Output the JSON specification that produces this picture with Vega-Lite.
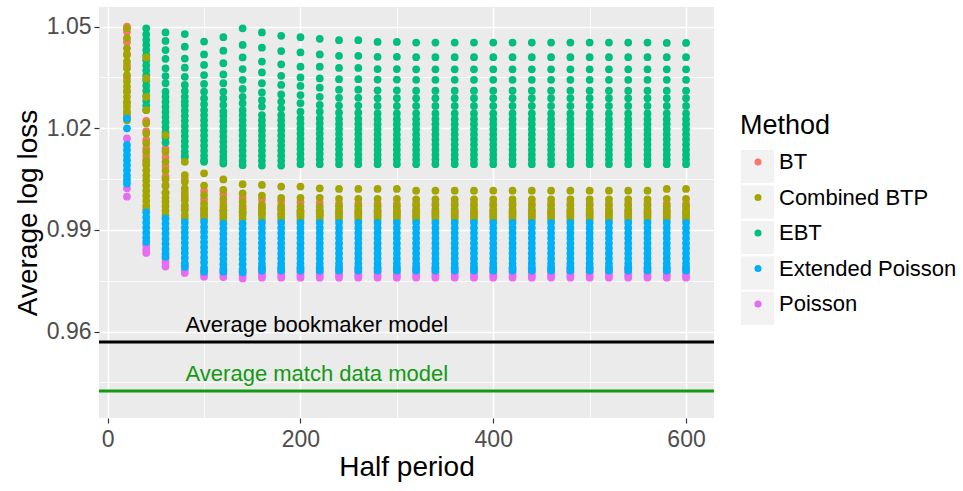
{
  "$schema": "https://vega.github.io/schema/vega-lite/v6.json",
  "width": 615,
  "height": 411,
  "autosize": "none",
  "padding": {"left": 99, "top": 7, "right": 249, "bottom": 73},
  "config": {
    "view": {"fill": "#EBEBEB", "stroke": null},
    "font": "Liberation Sans"
  },
  "encoding": {
    "y": {
      "field": "v", "type": "quantitative",
      "scale": {"domain": [0.9345, 1.0558], "nice": false, "zero": false},
      "title": "Average log loss",
      "axis": {
        "values": [0.945, 0.96, 0.975, 0.99, 1.005, 1.02, 1.035, 1.05],
        "format": ".2f",
        "labelExpr": "(datum.value==0.96||datum.value==0.99||datum.value==1.02||datum.value==1.05)?datum.label:''",
        "domain": false,
        "grid": true,
        "gridColor": "#FFFFFF",
        "gridWidth": {"condition": {"test": "datum.value==0.96||datum.value==0.99||datum.value==1.02||datum.value==1.05", "value": 1.6}, "value": 0.8},
        "tickOpacity": {"condition": {"test": "datum.value==0.96||datum.value==0.99||datum.value==1.02||datum.value==1.05", "value": 1}, "value": 0},
        "tickColor": "#333333",
        "tickSize": 5,
        "tickWidth": 1.2,
        "labelFontSize": 23,
        "labelColor": "#4D4D4D",
        "labelPadding": 3,
        "titleFontSize": 28,
        "titleFontWeight": "normal",
        "titleColor": "#000000",
        "titlePadding": 4
      }
    }
  },
  "layer": [
    {
      "data": {"values": [{"key": "k1"}, {"key": "k2"}, {"key": "k3"}, {"key": "k4"}, {"key": "k5"}]},
      "mark": {"type": "point", "filled": true, "color": "#F2F2F2", "opacity": 1},
      "encoding": {
        "shape": {
          "field": "key", "type": "nominal",
          "scale": {
            "domain": ["k1", "k2", "k3", "k4", "k5"],
            "range": ["square", "square", "square", "square", "square"]
          },
          "legend": {
            "orient": "none",
            "legendX": 642,
            "legendY": 143,
            "title": null,
            "labelExpr": "''",
            "labelFontSize": 1,
            "labelOffset": 0,
            "symbolSize": 1089,
            "symbolFillColor": "#F2F2F2",
            "symbolOpacity": 1,
            "symbolStrokeWidth": 0,
            "symbolOffset": 0,
            "rowPadding": 2.5
          }
        }
      }
    },
    {
      "data": {"values": [
        {"m": "BT", "h": 20, "v": [1.0500,1.0485,1.0455,1.0420,1.0385,1.0350,1.0310,1.0275,1.0245]},
        {"m": "BT", "h": 40, "v": [1.0222,1.0192,1.0166,1.0141,1.0118,1.0098]},
        {"m": "BT", "h": 60, "v": [1.0140,1.0115,1.0088,1.0058,1.0033,1.0010]},
        {"m": "BT", "h": 80, "v": [1.0050,1.0012,0.9995,0.9965]},
        {"m": "BT", "h": 100, "v": [1.0015,0.9990,0.9960,0.9945]},
        {"m": "BT", "h": 120, "v": [1.0005,0.9980,0.9958]},
        {"m": "BT", "h": 140, "v": [0.9995,0.9972,0.9952]},
        {"m": "BT", "h": 160, "v": [0.9990,0.9968,0.9950]},
        {"m": "BT", "h": 180, "v": [0.9985,0.9962,0.9946]},
        {"m": "BT", "h": 200, "v": [0.9982,0.9955,0.9944]},
        {"m": "BT", "h": 220, "v": [0.9980,0.9955,0.9944]},
        {"m": "BT", "h": 240, "v": [0.9978,0.9955,0.9943]},
        {"m": "BT", "h": 260, "v": [0.9978,0.9955,0.9943]},
        {"m": "BT", "h": 280, "v": [0.9978,0.9955,0.9943]},
        {"m": "BT", "h": 300, "v": [0.9978,0.9955,0.9943]},
        {"m": "BT", "h": 320, "v": [0.9978,0.9955,0.9943]},
        {"m": "BT", "h": 340, "v": [0.9978,0.9955,0.9943]},
        {"m": "BT", "h": 360, "v": [0.9978,0.9955,0.9943]},
        {"m": "BT", "h": 380, "v": [0.9978,0.9955,0.9943]},
        {"m": "BT", "h": 400, "v": [0.9978,0.9955,0.9943]},
        {"m": "BT", "h": 420, "v": [0.9978,0.9955,0.9943]},
        {"m": "BT", "h": 440, "v": [0.9978,0.9955,0.9943]},
        {"m": "BT", "h": 460, "v": [0.9978,0.9955,0.9943]},
        {"m": "BT", "h": 480, "v": [0.9978,0.9955,0.9943]},
        {"m": "BT", "h": 500, "v": [0.9978,0.9955,0.9943]},
        {"m": "BT", "h": 520, "v": [0.9978,0.9955,0.9943]},
        {"m": "BT", "h": 540, "v": [0.9978,0.9955,0.9943]},
        {"m": "BT", "h": 560, "v": [0.9978,0.9955,0.9943]},
        {"m": "BT", "h": 580, "v": [0.9978,0.9955,0.9943]},
        {"m": "BT", "h": 600, "v": [0.9978,0.9955,0.9943]},

        {"m": "Poisson", "h": 20, "v": [1.0170,1.0023,0.9998]},
        {"m": "Poisson", "h": 40, "v": [0.9855,0.9842,0.9832]},
        {"m": "Poisson", "h": 60, "v": [0.9815,0.9804,0.9792]},
        {"m": "Poisson", "h": 80, "v": [0.9795,0.9782,0.9773]},
        {"m": "Poisson", "h": 100, "v": [0.9780,0.9770,0.9762]},
        {"m": "Poisson", "h": 120, "v": [0.9780,0.9770,0.9761]},
        {"m": "Poisson", "h": 140, "v": [0.9776,0.9766,0.9757]},
        {"m": "Poisson", "h": 160, "v": [0.9790,0.9775,0.9766,0.9759]},
        {"m": "Poisson", "h": 180, "v": [0.9790,0.9775,0.9766,0.9759]},
        {"m": "Poisson", "h": 200, "v": [0.9790,0.9775,0.9766,0.9759]},
        {"m": "Poisson", "h": 220, "v": [0.9790,0.9775,0.9766,0.9759]},
        {"m": "Poisson", "h": 240, "v": [0.9790,0.9775,0.9766,0.9759]},
        {"m": "Poisson", "h": 260, "v": [0.9790,0.9775,0.9766,0.9759]},
        {"m": "Poisson", "h": 280, "v": [0.9790,0.9775,0.9766,0.9759]},
        {"m": "Poisson", "h": 300, "v": [0.9790,0.9775,0.9766,0.9759]},
        {"m": "Poisson", "h": 320, "v": [0.9790,0.9775,0.9766,0.9759]},
        {"m": "Poisson", "h": 340, "v": [0.9790,0.9775,0.9766,0.9759]},
        {"m": "Poisson", "h": 360, "v": [0.9790,0.9775,0.9766,0.9759]},
        {"m": "Poisson", "h": 380, "v": [0.9790,0.9775,0.9766,0.9759]},
        {"m": "Poisson", "h": 400, "v": [0.9790,0.9775,0.9766,0.9759]},
        {"m": "Poisson", "h": 420, "v": [0.9790,0.9775,0.9766,0.9759]},
        {"m": "Poisson", "h": 440, "v": [0.9790,0.9775,0.9766,0.9759]},
        {"m": "Poisson", "h": 460, "v": [0.9790,0.9775,0.9766,0.9759]},
        {"m": "Poisson", "h": 480, "v": [0.9790,0.9775,0.9766,0.9759]},
        {"m": "Poisson", "h": 500, "v": [0.9790,0.9775,0.9766,0.9759]},
        {"m": "Poisson", "h": 520, "v": [0.9790,0.9775,0.9766,0.9759]},
        {"m": "Poisson", "h": 540, "v": [0.9790,0.9775,0.9766,0.9759]},
        {"m": "Poisson", "h": 560, "v": [0.9790,0.9775,0.9766,0.9759]},
        {"m": "Poisson", "h": 580, "v": [0.9790,0.9775,0.9766,0.9759]},
        {"m": "Poisson", "h": 600, "v": [0.9790,0.9775,0.9766,0.9759]},

        {"m": "EBT", "h": 40, "v": [1.0495,1.0477,1.0461,1.0446,1.0431,1.0416,1.0401,1.0386,1.0371,1.0356,1.0341,1.0326,1.0311,1.0296,1.0281,1.0267,1.0254]},
        {"m": "EBT", "h": 60, "v": [1.0483,1.0458,1.0431,1.0405,1.0377,1.0354,1.0333,1.0308,1.0293,1.0278,1.0263,1.0248,1.0233,1.0218,1.0203,1.0188,1.0173,1.0158]},
        {"m": "EBT", "h": 80, "v": [1.0478,1.0441,1.0406,1.0379,1.0352,1.0328,1.0310,1.0293,1.0279,1.0267,1.0252,1.0237,1.0222,1.0207,1.0192,1.0177,1.0162,1.0147,1.0132,1.0120,1.0114]},
        {"m": "EBT", "h": 100, "v": [1.0456,1.0418,1.0387,1.0357,1.0331,1.0308,1.0288,1.0271,1.0254,1.0239,1.0224,1.0209,1.0194,1.0179,1.0164,1.0149,1.0134,1.0119,1.0106,1.0101]},
        {"m": "EBT", "h": 120, "v": [1.0469,1.0429,1.0392,1.0359,1.0333,1.0308,1.0288,1.0269,1.0249,1.0236,1.0221,1.0206,1.0191,1.0176,1.0161,1.0146,1.0131,1.0117,1.0105,1.0096]},
        {"m": "EBT", "h": 140, "v": [1.0495,1.0446,1.0409,1.0375,1.0343,1.0316,1.0293,1.0274,1.0254,1.0239,1.0224,1.0209,1.0194,1.0179,1.0164,1.0149,1.0134,1.0119,1.0104,1.0091]},
        {"m": "EBT", "h": 160, "v": [1.0483,1.0438,1.0397,1.0365,1.0333,1.0306,1.0283,1.0264,1.0239,1.0224,1.0209,1.0194,1.0179,1.0164,1.0149,1.0134,1.0119,1.0104,1.0090]},
        {"m": "EBT", "h": 180, "v": [1.0473,1.0428,1.0389,1.0355,1.0328,1.0300,1.0279,1.0259,1.0239,1.0224,1.0209,1.0194,1.0179,1.0164,1.0149,1.0134,1.0119,1.0104,1.0090]},
        {"m": "EBT", "h": 200, "v": [1.0469,1.0424,1.0382,1.0350,1.0325,1.0298,1.0274,1.0249,1.0229,1.0214,1.0199,1.0184,1.0169,1.0154,1.0139,1.0124,1.0109,1.0094]},
        {"m": "EBT", "h": 220, "v": [1.0464,1.0418,1.0382,1.0347,1.0320,1.0293,1.0269,1.0249,1.0229,1.0214,1.0199,1.0184,1.0169,1.0154,1.0139,1.0124,1.0109,1.0094]},
        {"m": "EBT", "h": 240, "v": [1.0460,1.0414,1.0378,1.0345,1.0314,1.0290,1.0267,1.0246,1.0228,1.0213,1.0198,1.0183,1.0168,1.0153,1.0138,1.0123,1.0108,1.0094]},
        {"m": "EBT", "h": 260, "v": [1.0460,1.0414,1.0378,1.0345,1.0314,1.0290,1.0267,1.0246,1.0228,1.0213,1.0198,1.0183,1.0168,1.0153,1.0138,1.0123,1.0108,1.0094]},
        {"m": "EBT", "h": 280, "v": [1.0455,1.0411,1.0375,1.0344,1.0312,1.0289,1.0266,1.0244,1.0227,1.0212,1.0197,1.0182,1.0167,1.0152,1.0137,1.0122,1.0108,1.0094]},
        {"m": "EBT", "h": 300, "v": [1.0455,1.0411,1.0375,1.0344,1.0312,1.0289,1.0266,1.0244,1.0227,1.0212,1.0197,1.0182,1.0167,1.0152,1.0137,1.0122,1.0108,1.0094]},
        {"m": "EBT", "h": 320, "v": [1.0453,1.0410,1.0374,1.0343,1.0311,1.0289,1.0266,1.0244,1.0227,1.0212,1.0197,1.0182,1.0167,1.0152,1.0137,1.0122,1.0108,1.0094]},
        {"m": "EBT", "h": 340, "v": [1.0453,1.0410,1.0374,1.0343,1.0311,1.0289,1.0266,1.0244,1.0227,1.0212,1.0197,1.0182,1.0167,1.0152,1.0137,1.0122,1.0108,1.0094]},
        {"m": "EBT", "h": 360, "v": [1.0453,1.0410,1.0374,1.0343,1.0311,1.0289,1.0266,1.0244,1.0227,1.0212,1.0197,1.0182,1.0167,1.0152,1.0137,1.0122,1.0108,1.0094]},
        {"m": "EBT", "h": 380, "v": [1.0453,1.0410,1.0374,1.0343,1.0311,1.0289,1.0266,1.0244,1.0227,1.0212,1.0197,1.0182,1.0167,1.0152,1.0137,1.0122,1.0108,1.0094]},
        {"m": "EBT", "h": 400, "v": [1.0453,1.0410,1.0374,1.0343,1.0311,1.0289,1.0266,1.0244,1.0227,1.0212,1.0197,1.0182,1.0167,1.0152,1.0137,1.0122,1.0108,1.0094]},
        {"m": "EBT", "h": 420, "v": [1.0453,1.0410,1.0374,1.0343,1.0311,1.0289,1.0266,1.0244,1.0227,1.0212,1.0197,1.0182,1.0167,1.0152,1.0137,1.0122,1.0108,1.0094]},
        {"m": "EBT", "h": 440, "v": [1.0453,1.0410,1.0374,1.0343,1.0311,1.0289,1.0266,1.0244,1.0227,1.0212,1.0197,1.0182,1.0167,1.0152,1.0137,1.0122,1.0108,1.0094]},
        {"m": "EBT", "h": 460, "v": [1.0453,1.0410,1.0374,1.0343,1.0311,1.0289,1.0266,1.0244,1.0227,1.0212,1.0197,1.0182,1.0167,1.0152,1.0137,1.0122,1.0108,1.0094]},
        {"m": "EBT", "h": 480, "v": [1.0453,1.0410,1.0374,1.0343,1.0311,1.0289,1.0266,1.0244,1.0227,1.0212,1.0197,1.0182,1.0167,1.0152,1.0137,1.0122,1.0108,1.0094]},
        {"m": "EBT", "h": 500, "v": [1.0453,1.0410,1.0374,1.0343,1.0311,1.0289,1.0266,1.0244,1.0227,1.0212,1.0197,1.0182,1.0167,1.0152,1.0137,1.0122,1.0108,1.0094]},
        {"m": "EBT", "h": 520, "v": [1.0453,1.0410,1.0374,1.0343,1.0311,1.0289,1.0266,1.0244,1.0227,1.0212,1.0197,1.0182,1.0167,1.0152,1.0137,1.0122,1.0108,1.0094]},
        {"m": "EBT", "h": 540, "v": [1.0453,1.0410,1.0374,1.0343,1.0311,1.0289,1.0266,1.0244,1.0227,1.0212,1.0197,1.0182,1.0167,1.0152,1.0137,1.0122,1.0108,1.0094]},
        {"m": "EBT", "h": 560, "v": [1.0453,1.0410,1.0374,1.0343,1.0311,1.0289,1.0266,1.0244,1.0227,1.0212,1.0197,1.0182,1.0167,1.0152,1.0137,1.0122,1.0108,1.0094]},
        {"m": "EBT", "h": 580, "v": [1.0452,1.0410,1.0374,1.0343,1.0311,1.0289,1.0266,1.0244,1.0227,1.0212,1.0197,1.0182,1.0167,1.0152,1.0137,1.0122,1.0108,1.0094]},
        {"m": "EBT", "h": 600, "v": [1.0452,1.0410,1.0374,1.0343,1.0311,1.0289,1.0266,1.0244,1.0227,1.0212,1.0197,1.0182,1.0167,1.0152,1.0137,1.0122,1.0108,1.0094]},

        {"m": "Combined BTP", "h": 20, "v": [1.0495,1.0466,1.0436,1.0416,1.0397,1.0377,1.0357,1.0338,1.0323,1.0308,1.0293,1.0278,1.0263,1.0250,1.0237,1.0224]},
        {"m": "Combined BTP", "h": 40, "v": [1.0409,1.0347,1.0293,1.0254,1.0215,1.0185,1.0156,1.0131,1.0106,1.0091,1.0076,1.0061,1.0046,1.0031,1.0016,1.0001,0.9986,0.9972,0.9962]},
        {"m": "Combined BTP", "h": 60, "v": [1.0180,1.0131,1.0101,1.0075,1.0050,1.0030,1.0010,0.9995,0.9983,0.9970,0.9957,0.9944]},
        {"m": "Combined BTP", "h": 80, "v": [1.0101,1.0062,1.0042,1.0023,1.0003,0.9988,0.9973,0.9958,0.9944,0.9934]},
        {"m": "Combined BTP", "h": 100, "v": [1.0067,1.0031,1.0003,0.9978,0.9966,0.9954,0.9944,0.9934]},
        {"m": "Combined BTP", "h": 120, "v": [1.0049,1.0018,0.9991,0.9969,0.9957,0.9946,0.9937,0.9929]},
        {"m": "Combined BTP", "h": 140, "v": [1.0035,1.0008,0.9983,0.9964,0.9954,0.9944,0.9932]},
        {"m": "Combined BTP", "h": 160, "v": [1.0033,1.0001,0.9975,0.9964,0.9954,0.9943,0.9931]},
        {"m": "Combined BTP", "h": 180, "v": [1.0028,0.9995,0.9971,0.9960,0.9949,0.9939,0.9930]},
        {"m": "Combined BTP", "h": 200, "v": [1.0028,0.9995,0.9969,0.9958,0.9949,0.9939,0.9930]},
        {"m": "Combined BTP", "h": 220, "v": [1.0023,0.9995,0.9969,0.9958,0.9949,0.9939,0.9930]},
        {"m": "Combined BTP", "h": 240, "v": [1.0021,0.9992,0.9970,0.9959,0.9949,0.9938,0.9930]},
        {"m": "Combined BTP", "h": 260, "v": [1.0021,0.9992,0.9970,0.9959,0.9949,0.9938,0.9930]},
        {"m": "Combined BTP", "h": 280, "v": [1.0021,0.9992,0.9970,0.9959,0.9949,0.9938,0.9930]},
        {"m": "Combined BTP", "h": 300, "v": [1.0021,0.9992,0.9970,0.9959,0.9949,0.9938,0.9930]},
        {"m": "Combined BTP", "h": 320, "v": [1.0016,0.9990,0.9972,0.9960,0.9949,0.9938,0.9930]},
        {"m": "Combined BTP", "h": 340, "v": [1.0016,0.9990,0.9972,0.9960,0.9949,0.9938,0.9930]},
        {"m": "Combined BTP", "h": 360, "v": [1.0016,0.9990,0.9972,0.9960,0.9949,0.9938,0.9930]},
        {"m": "Combined BTP", "h": 380, "v": [1.0016,0.9990,0.9972,0.9960,0.9949,0.9938,0.9930]},
        {"m": "Combined BTP", "h": 400, "v": [1.0016,0.9990,0.9972,0.9960,0.9949,0.9938,0.9930]},
        {"m": "Combined BTP", "h": 420, "v": [1.0016,0.9990,0.9972,0.9960,0.9949,0.9938,0.9930]},
        {"m": "Combined BTP", "h": 440, "v": [1.0016,0.9990,0.9972,0.9960,0.9949,0.9938,0.9930]},
        {"m": "Combined BTP", "h": 460, "v": [1.0016,0.9990,0.9972,0.9960,0.9949,0.9938,0.9930]},
        {"m": "Combined BTP", "h": 480, "v": [1.0016,0.9990,0.9972,0.9960,0.9949,0.9938,0.9930]},
        {"m": "Combined BTP", "h": 500, "v": [1.0016,0.9990,0.9972,0.9960,0.9949,0.9938,0.9930]},
        {"m": "Combined BTP", "h": 520, "v": [1.0016,0.9990,0.9972,0.9960,0.9949,0.9938,0.9930]},
        {"m": "Combined BTP", "h": 540, "v": [1.0016,0.9990,0.9972,0.9960,0.9949,0.9938,0.9930]},
        {"m": "Combined BTP", "h": 560, "v": [1.0016,0.9990,0.9972,0.9960,0.9949,0.9938,0.9930]},
        {"m": "Combined BTP", "h": 580, "v": [1.0021,0.9992,0.9970,0.9959,0.9949,0.9938,0.9930]},
        {"m": "Combined BTP", "h": 600, "v": [1.0021,0.9992,0.9970,0.9959,0.9949,0.9938,0.9930]},

        {"m": "Extended Poisson", "h": 20, "v": [1.0229,1.0200,1.0151,1.0136,1.0121,1.0106,1.0091,1.0076,1.0061,1.0048,1.0037]},
        {"m": "Extended Poisson", "h": 40, "v": [0.9952,0.9937,0.9922,0.9907,0.9892,0.9877,0.9865]},
        {"m": "Extended Poisson", "h": 60, "v": [0.9934,0.9919,0.9904,0.9889,0.9874,0.9859,0.9844,0.9830,0.9821]},
        {"m": "Extended Poisson", "h": 80, "v": [0.9922,0.9907,0.9892,0.9877,0.9862,0.9847,0.9832,0.9817,0.9802,0.9791]},
        {"m": "Extended Poisson", "h": 100, "v": [0.9924,0.9909,0.9894,0.9879,0.9864,0.9849,0.9834,0.9819,0.9804,0.9789,0.9777]},
        {"m": "Extended Poisson", "h": 120, "v": [0.9919,0.9904,0.9889,0.9874,0.9859,0.9844,0.9829,0.9814,0.9799,0.9786,0.9777]},
        {"m": "Extended Poisson", "h": 140, "v": [0.9919,0.9904,0.9889,0.9874,0.9859,0.9844,0.9829,0.9814,0.9799,0.9784,0.9775]},
        {"m": "Extended Poisson", "h": 160, "v": [0.9921,0.9906,0.9891,0.9876,0.9861,0.9846,0.9831,0.9816,0.9801,0.9787,0.9780]},
        {"m": "Extended Poisson", "h": 180, "v": [0.9921,0.9906,0.9891,0.9876,0.9861,0.9846,0.9831,0.9816,0.9801,0.9787,0.9780]},
        {"m": "Extended Poisson", "h": 200, "v": [0.9921,0.9906,0.9891,0.9876,0.9861,0.9846,0.9831,0.9816,0.9801,0.9787,0.9780]},
        {"m": "Extended Poisson", "h": 220, "v": [0.9921,0.9906,0.9891,0.9876,0.9861,0.9846,0.9831,0.9816,0.9801,0.9787,0.9780]},
        {"m": "Extended Poisson", "h": 240, "v": [0.9921,0.9906,0.9891,0.9876,0.9861,0.9846,0.9831,0.9816,0.9801,0.9787,0.9780]},
        {"m": "Extended Poisson", "h": 260, "v": [0.9921,0.9906,0.9891,0.9876,0.9861,0.9846,0.9831,0.9816,0.9801,0.9787,0.9780]},
        {"m": "Extended Poisson", "h": 280, "v": [0.9921,0.9906,0.9891,0.9876,0.9861,0.9846,0.9831,0.9816,0.9801,0.9787,0.9780]},
        {"m": "Extended Poisson", "h": 300, "v": [0.9921,0.9906,0.9891,0.9876,0.9861,0.9846,0.9831,0.9816,0.9801,0.9787,0.9780]},
        {"m": "Extended Poisson", "h": 320, "v": [0.9921,0.9906,0.9891,0.9876,0.9861,0.9846,0.9831,0.9816,0.9801,0.9787,0.9780]},
        {"m": "Extended Poisson", "h": 340, "v": [0.9921,0.9906,0.9891,0.9876,0.9861,0.9846,0.9831,0.9816,0.9801,0.9787,0.9780]},
        {"m": "Extended Poisson", "h": 360, "v": [0.9921,0.9906,0.9891,0.9876,0.9861,0.9846,0.9831,0.9816,0.9801,0.9787,0.9780]},
        {"m": "Extended Poisson", "h": 380, "v": [0.9921,0.9906,0.9891,0.9876,0.9861,0.9846,0.9831,0.9816,0.9801,0.9787,0.9780]},
        {"m": "Extended Poisson", "h": 400, "v": [0.9921,0.9906,0.9891,0.9876,0.9861,0.9846,0.9831,0.9816,0.9801,0.9787,0.9780]},
        {"m": "Extended Poisson", "h": 420, "v": [0.9921,0.9906,0.9891,0.9876,0.9861,0.9846,0.9831,0.9816,0.9801,0.9787,0.9780]},
        {"m": "Extended Poisson", "h": 440, "v": [0.9921,0.9906,0.9891,0.9876,0.9861,0.9846,0.9831,0.9816,0.9801,0.9787,0.9780]},
        {"m": "Extended Poisson", "h": 460, "v": [0.9921,0.9906,0.9891,0.9876,0.9861,0.9846,0.9831,0.9816,0.9801,0.9787,0.9780]},
        {"m": "Extended Poisson", "h": 480, "v": [0.9921,0.9906,0.9891,0.9876,0.9861,0.9846,0.9831,0.9816,0.9801,0.9787,0.9780]},
        {"m": "Extended Poisson", "h": 500, "v": [0.9921,0.9906,0.9891,0.9876,0.9861,0.9846,0.9831,0.9816,0.9801,0.9787,0.9780]},
        {"m": "Extended Poisson", "h": 520, "v": [0.9921,0.9906,0.9891,0.9876,0.9861,0.9846,0.9831,0.9816,0.9801,0.9787,0.9780]},
        {"m": "Extended Poisson", "h": 540, "v": [0.9921,0.9906,0.9891,0.9876,0.9861,0.9846,0.9831,0.9816,0.9801,0.9787,0.9780]},
        {"m": "Extended Poisson", "h": 560, "v": [0.9921,0.9906,0.9891,0.9876,0.9861,0.9846,0.9831,0.9816,0.9801,0.9787,0.9780]},
        {"m": "Extended Poisson", "h": 580, "v": [0.9921,0.9906,0.9891,0.9876,0.9861,0.9846,0.9831,0.9816,0.9801,0.9787,0.9780]},
        {"m": "Extended Poisson", "h": 600, "v": [0.9921,0.9906,0.9891,0.9876,0.9861,0.9846,0.9831,0.9816,0.9801,0.9787,0.9780]}
      ]},
      "transform": [{"flatten": ["v"]}],
      "mark": {"type": "circle", "size": 60, "opacity": 1},
      "encoding": {
        "x": {
          "field": "h", "type": "quantitative",
          "scale": {"domain": [-9, 629], "nice": false, "zero": false},
          "title": "Half period",
          "axis": {
            "values": [0, 100, 200, 300, 400, 500, 600],
            "labelExpr": "(datum.value%200==0)?datum.label:''",
            "domain": false,
            "grid": true,
            "gridColor": "#FFFFFF",
            "gridWidth": {"condition": {"test": "datum.value%200==0", "value": 1.6}, "value": 0.8},
            "tickOpacity": {"condition": {"test": "datum.value%200==0", "value": 1}, "value": 0},
            "tickColor": "#333333",
            "tickSize": 5,
            "tickWidth": 1.2,
            "labelFontSize": 23,
            "labelColor": "#4D4D4D",
            "labelPadding": 5,
            "titleFontSize": 28,
            "titleFontWeight": "normal",
            "titleColor": "#000000",
            "titlePadding": 2
          }
        },
        "color": {
          "field": "m", "type": "nominal",
          "scale": {
            "domain": ["BT", "Combined BTP", "EBT", "Extended Poisson", "Poisson"],
            "range": ["#F8766D", "#A3A500", "#00BF7D", "#00B0F6", "#E76BF3"]
          },
          "legend": {
            "orient": "none",
            "legendX": 641,
            "legendY": 106,
            "title": "Method",
            "titleFontSize": 27,
            "titleFontWeight": "normal",
            "titleColor": "#000000",
            "titlePadding": 11,
            "labelFontSize": 22,
            "labelColor": "#000000",
            "labelLimit": 400,
            "symbolType": "circle",
            "symbolSize": 50,
            "symbolStrokeWidth": 0,
            "symbolOffset": 7,
            "labelOffset": 10,
            "rowPadding": 13.5
          }
        }
      }
    },
    {
      "data": {"values": [{"v": 0.9569}]},
      "mark": {"type": "rule", "color": "#000000", "strokeWidth": 3},
      "encoding": {}
    },
    {
      "data": {"values": [{"v": 0.9425}]},
      "mark": {"type": "rule", "color": "#139A13", "strokeWidth": 3},
      "encoding": {}
    },
    {
      "data": {"values": [{"label": "Average bookmaker model", "h": 217, "v": 0.9598}]},
      "mark": {"type": "text", "fontSize": 22, "align": "center", "baseline": "alphabetic", "color": "#000000"},
      "encoding": {
        "x": {"field": "h", "type": "quantitative", "scale": {"domain": [-9, 629], "nice": false, "zero": false}},
        "text": {"field": "label"}
      }
    },
    {
      "data": {"values": [{"label": "Average match data model", "h": 217, "v": 0.9454}]},
      "mark": {"type": "text", "fontSize": 22, "align": "center", "baseline": "alphabetic", "color": "#139A13"},
      "encoding": {
        "x": {"field": "h", "type": "quantitative", "scale": {"domain": [-9, 629], "nice": false, "zero": false}},
        "text": {"field": "label"}
      }
    }
  ]
}
